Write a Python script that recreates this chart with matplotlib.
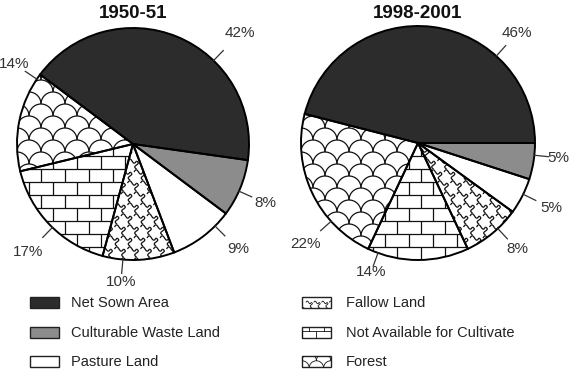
import numpy as np
import matplotlib.pyplot as plt
from matplotlib.patches import Wedge, Rectangle
from matplotlib.collections import LineCollection

plt.rcParams['font.family'] = ['Liberation Sans', 'DejaVu Sans']

# data
categories = ['Net Sown Area', 'Forest', 'Not Available for Cultivate',
              'Fallow Land', 'Pasture Land', 'Culturable Waste Land']
years = ['1950-51', '1998-2001']
share_1950 = [42, 14, 17, 10, 9, 8]
share_1998 = [46, 22, 14, 8, 5, 5]

# style per category
fills = ['#2c2c2c', 'white', 'white', 'white', 'white', '#8c8c8c']
patterns = [None, 'scales', 'bricks', 'waves', None, None]

# legend order (two columns)
legend_left = ['Net Sown Area', 'Culturable Waste Land', 'Pasture Land']
legend_right = ['Fallow Land', 'Not Available for Cultivate', 'Forest']

# label placement: angle (deg) and distance factor for each slice
label_pos_1950 = [(46, 1.33), (146, 1.24), (226, 1.30), (265, 1.19), (-45, 1.28), (-24, 1.25)]
label_pos_1998 = [(48, 1.26), (222, 1.29), (250, 1.17), (-47, 1.24), (-26, 1.27), (-6, 1.21)]


def pattern_lines(kind, x0, x1, y0, y1, s=1.0):
    lines = []
    if kind == 'bricks':
        h, w = 13 * s, 24 * s
        j = 0
        y = y0
        while y < y1:
            lines.append([(x0, y), (x1, y)])
            x = x0 + (j % 2) * w / 2
            while x < x1:
                lines.append([(x, y), (x, y + h)])
                x += w
            y += h
            j += 1
    elif kind == 'scales':
        R = 12 * s
        t = np.linspace(0, np.pi, 25)
        j = 0
        cy = y0
        while cy < y1 + R:
            cx = x0 + (j % 2) * R
            while cx < x1 + R:
                lines.append(np.column_stack([cx + R * np.cos(t), cy + R * np.sin(t)]))
                cx += 2 * R
            cy += R
            j += 1
    elif kind == 'waves':
        # rows of short wavy strokes joined by small vertical squiggles
        dx, dy = 13 * s, 11 * s
        u = np.linspace(0, 1, 14)
        j = 0
        y = y0
        while y < y1:
            x = x0 + (j % 2) * dx / 2
            while x < x1:
                lines.append(np.column_stack([x + u * 9 * s,
                                              y + 2.2 * s * np.sin(u * 2 * np.pi)]))
                lines.append(np.column_stack([x + 9 * s + 1.8 * s * np.sin(u * 2 * np.pi),
                                              y - u * 8 * s]))
                x += dx
            y += dy
            j += 1
    return lines


def add_pattern(ax, kind, patch, box, s=1.0, z=2):
    lc = LineCollection(pattern_lines(kind, *box, s=s), colors='#111111',
                        linewidths=0.9 if s == 1.0 else 0.6, zorder=z)
    ax.add_collection(lc)
    lc.set_clip_path(patch)


fig = plt.figure(figsize=(5.78, 3.70), dpi=100)
ax = fig.add_axes([0, 0, 1, 1])
ax.set_xlim(0, 578)
ax.set_ylim(0, 370)
ax.set_aspect('equal')
ax.axis('off')

pies = [(share_1950, (133, 226), 116, -8, label_pos_1950),
        (share_1998, (418, 227), 117, 0, label_pos_1998)]

for (vals, c, r, start, lpos), title in zip(pies, years):
    wedges, _ = ax.pie(vals, colors=fills, startangle=start, counterclock=True,
                       center=c, radius=r, frame=True,
                       wedgeprops=dict(edgecolor='none', zorder=1))
    for w, pat in zip(wedges, patterns):
        if pat:
            add_pattern(ax, pat, w, (c[0] - r, c[0] + r, c[1] - r, c[1] + r))
        ax.add_patch(Wedge(w.center, w.r, w.theta1, w.theta2, fill=False,
                           ec='black', lw=1.4, zorder=3))
    for v, (ang, d) in zip(vals, lpos):
        a = np.deg2rad(ang)
        ax.plot([c[0] + r * np.cos(a), c[0] + 1.12 * r * np.cos(a)],
                [c[1] + r * np.sin(a), c[1] + 1.12 * r * np.sin(a)],
                color='#333333', lw=0.9, zorder=3)
        ax.text(c[0] + d * r * np.cos(a), c[1] + d * r * np.sin(a), f'{v}%',
                ha='center', va='center', fontsize=11, color='#333333')
    ax.text(c[0], 357, title, ha='center', va='center', fontsize=13.5,
            fontweight='bold', color='#111111')

# legend
rows_y = [67, 37, 8]
for col_x, tx, names in [(30, 71, legend_left), (302, 346, legend_right)]:
    for y, name in zip(rows_y, names):
        i = categories.index(name)
        rect = Rectangle((col_x, y - 5), 29, 11, facecolor=fills[i],
                         edgecolor='#222222', lw=1.0, zorder=3)
        ax.add_patch(rect)
        if patterns[i]:
            add_pattern(ax, patterns[i], rect, (col_x, col_x + 30, y - 6, y + 7),
                        s=0.6, z=4)
        ax.text(tx, y, name, ha='left', va='center', fontsize=10.5,
                color='#222222')

ax.set_xlim(0, 578)
ax.set_ylim(0, 370)
fig.savefig('out.png', dpi=100)
